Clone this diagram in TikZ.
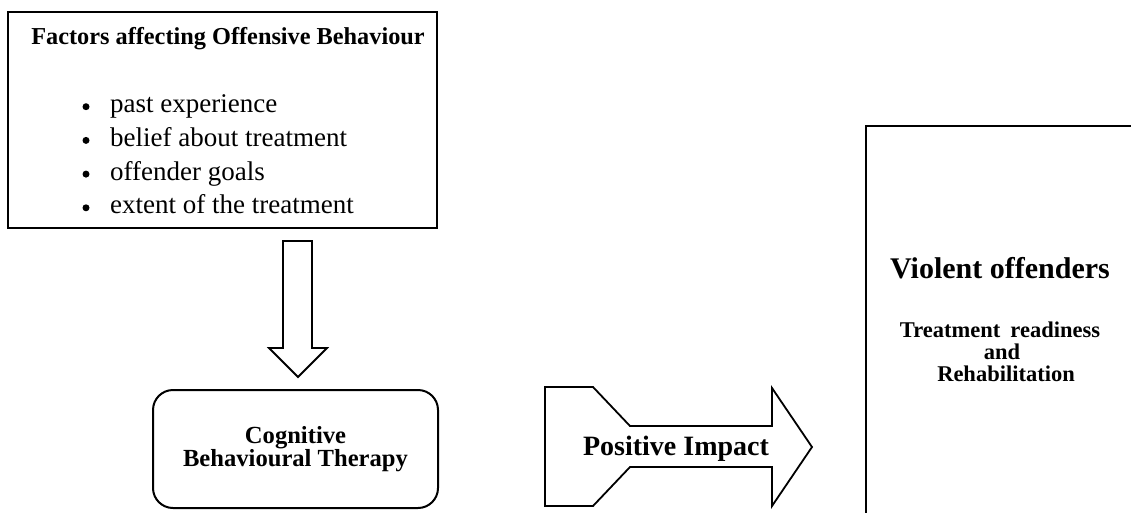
\documentclass[tikz,border=0pt]{standalone}
\usepackage{fontspec}
\setmainfont{Liberation Serif}
\begin{document}
\begin{tikzpicture}[x=1pt, y=-1pt,
  boxStyle/.style={draw, line width=2pt, inner sep=0},
  arrowStyle/.style={draw, line width=1.8pt, line join=miter},
  titleStyle/.style={font=\fontsize{24.3}{27}\selectfont\bfseries, anchor=base, inner sep=0},
  itemStyle/.style={font=\fontsize{27}{30}\selectfont, anchor=base west, inner sep=0},
  dotStyle/.style={circle, fill, inner sep=0, minimum size=7pt},
  boldStyle/.style={font=\fontsize{#1}{#1}\selectfont\bfseries, anchor=base, inner sep=0}]
  \clip (0,0) rectangle (1131,512);

  % top box with the factors
  \node[boxStyle, minimum width=429pt, minimum height=216pt] (factors) at (222.5,120) {};
  \node[titleStyle] (factors_T) at (228,44) {Factors affecting Offensive Behaviour};
  \foreach \txt [count=\i] in {past experience, belief about treatment, offender goals, extent of the treatment}{
    \node[dotStyle] (dot_\i) at (86, 73+33.7*\i) {};
    \node[itemStyle] (item_\i) at (110, 79+33.7*\i) {\txt};
  }

  % down arrow
  \draw[arrowStyle] (283,241) -- (312,241) -- (312,348) -- (327,348) -- (298,377)
    -- (269,348) -- (283,348) -- cycle;

  % therapy box
  \node[boxStyle, rounded corners=20pt, minimum width=285pt, minimum height=118pt,
    font=\fontsize{24.6}{23}\selectfont\bfseries, align=center] (cbt) at (295.5,449)
    {Cognitive\\Behavioural Therapy};

  % impact arrow
  \draw[arrowStyle] (545,387) -- (593,387) -- (630,426) -- (772,426) -- (772,388)
    -- (812,447) -- (772,506) -- (772,467) -- (630,467) -- (593,506) -- (545,506) -- cycle;
  \node[boldStyle=28] (impact_T) at (676,455) {Positive Impact};

  % right box, cut by the border
  \node[boxStyle, anchor=north west, minimum width=300pt, minimum height=420pt] (violent) at (865,125) {};
  \node[boldStyle=30] (violent_T) at (1000,278) {Violent offenders};
  \node[boldStyle=22.5] (ready_1) at (1000,337) {Treatment\hspace{0.45em}readiness};
  \node[boldStyle=22.5] (ready_2) at (1002,359) {and};
  \node[boldStyle=22.5] (ready_3) at (1006,381) {Rehabilitation};
\end{tikzpicture}
\end{document}
